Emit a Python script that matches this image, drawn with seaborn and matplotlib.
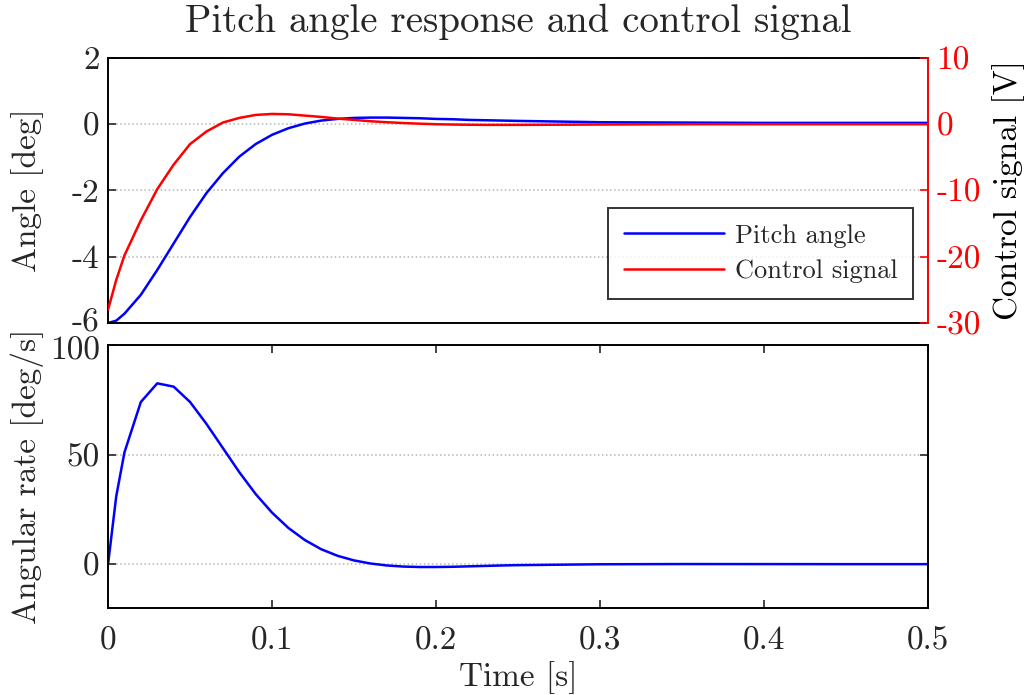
import matplotlib
matplotlib.use("Agg")
import matplotlib.pyplot as plt
from matplotlib.transforms import ScaledTranslation
import seaborn as sns

# values (time in s)
time = [0, 0.005, 0.01, 0.02, 0.03, 0.04, 0.05, 0.06, 0.07, 0.08, 0.09,
        0.1, 0.11, 0.12, 0.13, 0.14, 0.15, 0.16, 0.17, 0.18, 0.19,
        0.2, 0.21, 0.22, 0.23, 0.24, 0.25, 0.3, 0.35, 0.4, 0.45, 0.5]

pitch_angle = [-6.0, -5.93, -5.72, -5.15, -4.4, -3.6, -2.8, -2.08, -1.48, -0.98, -0.6,
               -0.32, -0.12, 0.02, 0.11, 0.16, 0.19, 0.2, 0.2, 0.19, 0.18,
               0.16, 0.15, 0.13, 0.12, 0.11, 0.1, 0.06, 0.05, 0.04, 0.04, 0.04]

control_signal = [-28.0, -23.5, -19.8, -14.5, -9.8, -6.1, -3.0, -1.1, 0.25, 0.95, 1.4,
                  1.55, 1.5, 1.3, 1.1, 0.85, 0.65, 0.45, 0.3, 0.18, 0.08,
                  0.0, -0.05, -0.08, -0.1, -0.1, -0.1, -0.05, 0.0, 0.0, 0.0, 0.0]

angular_rate = [0, 31, 51, 74, 82.5, 81, 74, 64, 53, 42, 32,
                23.5, 16.5, 11, 6.8, 3.8, 1.7, 0.3, -0.6, -1.1, -1.3,
                -1.3, -1.2, -1.0, -0.8, -0.6, -0.45, -0.05, 0.05, 0.03, 0.0, 0.0]

angle_ticks = [-6, -4, -2, 0, 2]
volt_ticks = [-30, -20, -10, 0, 10]
rate_ticks = [0, 50, 100]
time_ticks = [0, 0.1, 0.2, 0.3, 0.4, 0.5]
time_labels = ["0", "0.1", "0.2", "0.3", "0.4", "0.5"]

sns.set_style("white")
plt.rcParams["font.family"] = ["cmr10"]
plt.rcParams["axes.unicode_minus"] = False
plt.rcParams["mathtext.fontset"] = "cm"

fs = 24
lw = 1.8
fig = plt.figure(figsize=(10.32, 6.95), dpi=100)
ax1 = fig.add_axes([0.1047, 0.5353, 0.7946, 0.3813])
ax3 = fig.add_axes([0.1047, 0.1252, 0.7946, 0.3784])

# top panel: pitch angle + control signal on twin axis
sns.lineplot(x=time, y=pitch_angle, ax=ax1, color="blue", linewidth=lw, legend=False)
ax2 = ax1.twinx()
sns.lineplot(x=time, y=control_signal, ax=ax2, color="red", linewidth=lw, legend=False)

ax1.set_xlim(0, 0.5)
ax1.set_ylim(-6, 2)
ax1.set_yticks(angle_ticks)
ax1.set_xticks([])
ax1.set_ylabel("Angle [deg]", fontsize=fs)
ax1.yaxis.set_label_coords(-0.078, 0.5)
ax1.set_xlabel("")
ax1.grid(axis="y", color="#b5b5b5", linestyle=":", linewidth=1.1)
ax1.tick_params(axis="y", direction="in", length=6, width=1.2, labelsize=fs, pad=6)
ax1.spines["right"].set_visible(False)

ax2.set_ylim(-30, 10)
ax2.set_yticks(volt_ticks)
ax2.set_ylabel("Control signal [V]", fontsize=fs, labelpad=8)
ax2.tick_params(axis="y", direction="in", length=6, width=1.2, labelsize=fs,
                colors="red", pad=6)
ax2.yaxis.label.set_color("black")
ax2.spines["right"].set_color("red")
for s in ["left", "top", "bottom"]:
    ax2.spines[s].set_visible(False)

for ax in [ax1, ax2, ax3]:
    for s in ax.spines.values():
        s.set_linewidth(1.4)
for s in ["left", "top", "bottom"]:
    ax1.spines[s].set_color("black")

ax1.set_title("Pitch angle response and control signal", fontsize=28, pad=19)

handles = ax1.get_lines()[:1] + ax2.get_lines()[:1]
leg = ax2.legend(handles, ["Pitch angle", "Control signal"], loc="lower right",
                 bbox_to_anchor=(0.982, 0.09), borderaxespad=0, fontsize=19,
                 frameon=True, fancybox=False, handlelength=3.8, handletextpad=0.4,
                 borderpad=0.6, labelspacing=0.45)
leg.get_frame().set_edgecolor("black")
leg.get_frame().set_linewidth(1.4)

# bottom panel: angular rate
sns.lineplot(x=time, y=angular_rate, ax=ax3, color="blue", linewidth=lw, legend=False)
ax3.set_xlim(0, 0.5)
ax3.set_ylim(-20, 100)
ax3.set_yticks(rate_ticks)
ax3.set_xticks(time_ticks)
ax3.set_xticklabels(time_labels)
ax3.set_xlabel("Time [s]", fontsize=fs, labelpad=4)
ax3.set_ylabel("Angular rate [deg/s]", fontsize=fs)
ax3.yaxis.set_label_coords(-0.078, 0.5)
ax3.grid(axis="y", color="#b5b5b5", linestyle=":", linewidth=1.1)
ax3.tick_params(axis="y", direction="in", length=6, width=1.2, labelsize=fs,
                left=True, right=True, pad=6)
ax3.tick_params(axis="x", direction="in", length=6, width=1.2, labelsize=fs,
                top=True, bottom=True, pad=13)
for s in ax3.spines.values():
    s.set_color("black")

# the -6 and 100 labels nearly touch in the reference; nudge them apart a little
up = ScaledTranslation(0, 2.5 / 72, fig.dpi_scale_trans)
down = ScaledTranslation(0, -2.5 / 72, fig.dpi_scale_trans)
lab_bottom = ax1.get_yticklabels()[0]
lab_bottom.set_transform(lab_bottom.get_transform() + up)
lab_top = ax3.get_yticklabels()[-1]
lab_top.set_transform(lab_top.get_transform() + down)

fig.savefig("out.png", dpi=100)
